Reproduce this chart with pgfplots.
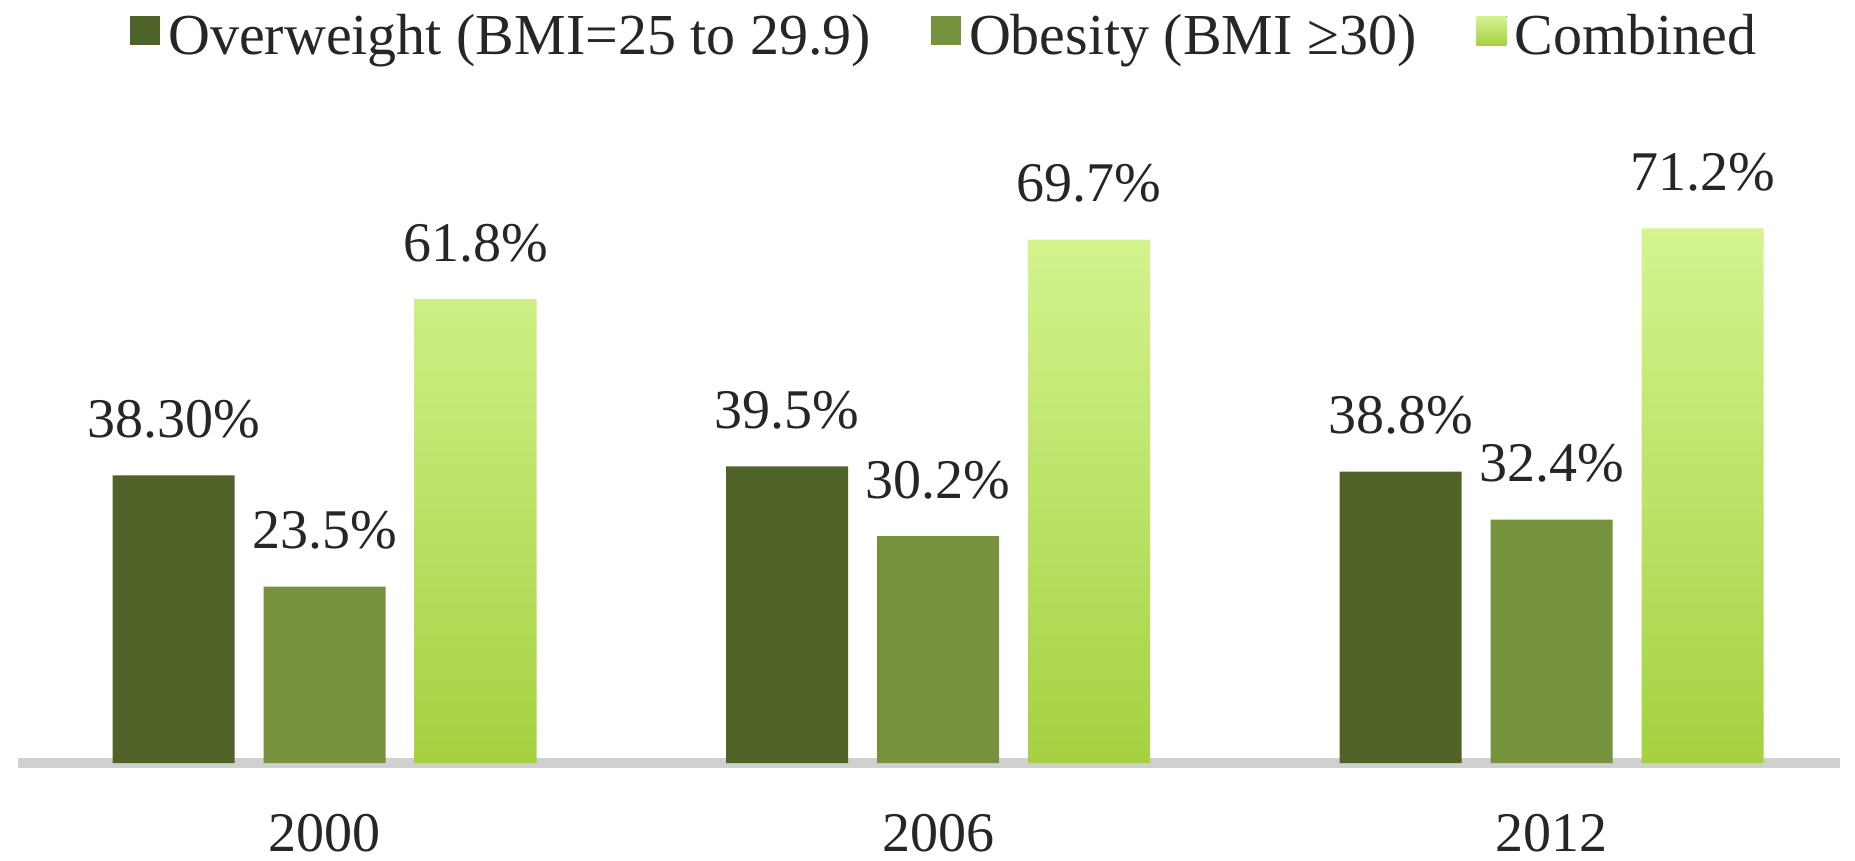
\documentclass[border=0pt]{standalone}
\usepackage{fontspec}
\setmainfont{Liberation Serif}
\usepackage{pgfplots}
\pgfplotsset{compat=1.18}
\definecolor{cOver}{HTML}{4F6228}
\definecolor{cObes}{HTML}{76923C}
\definecolor{cCombTop}{HTML}{D4F48F}
\definecolor{cCombBot}{HTML}{A5D141}
\definecolor{cAxis}{HTML}{D0D0D0}
\definecolor{cText}{HTML}{262626}
\begin{document}
\fontsize{14}{17}\selectfont
\begin{tikzpicture}
\path[use as bounding box] (-4.5pt,-24.25pt) rectangle (459.25pt,190.75pt);
\begin{axis}[
  at={(0,0)}, anchor=south west,
  scale only axis, width=455.5pt, height=150.2pt,
  xmin=-0.5, xmax=2.47, ymin=0, ymax=80,
  ybar=7.25pt, bar width=30.5pt,
  axis x line*=bottom, axis y line=none,
  x axis line style={-, line width=2.5pt, color=cAxis},
  xtick={0,1,2}, xticklabels={2000,2006,2012},
  major tick length=0pt,
  xticklabel style={yshift=-8pt, text=cText, font=\fontsize{14}{17}\selectfont},
  nodes near coords, point meta=explicit symbolic,
  nodes near coords style={anchor=center, yshift=14pt, text=cText, font=\fontsize{14}{17}\selectfont},
  legend style={draw=none, fill=none, legend columns=-1, at={(0.51,1.205)}, anchor=center,
    font=\fontsize{14.5}{17}\selectfont, text=cText,
    /tikz/every even column/.append style={column sep=13pt}},
  legend image code/.code={\fill[#1] (0pt,-1.55pt) rectangle (7.5pt,5.7pt);},
  clip=false,
]
\addplot[draw=none, fill=cOver] table[meta=lab] {
x y lab
0 38.3 38.30\%
1 39.5 39.5\%
2 38.8 38.8\%
};
\addplot[draw=none, fill=cObes] table[meta=lab] {
x y lab
0 23.5 23.5\%
1 30.2 30.2\%
2 32.4 32.4\%
};
\addplot[draw=none, top color=cCombTop, bottom color=cCombBot] table[meta=lab] {
x y lab
0 61.8 61.8\%
1 69.7 69.7\%
2 71.2 71.2\%
};
\legend{Overweight (BMI=25 to 29.9), Obesity (BMI ≥30), Combined}
\end{axis}
\end{tikzpicture}
\end{document}
